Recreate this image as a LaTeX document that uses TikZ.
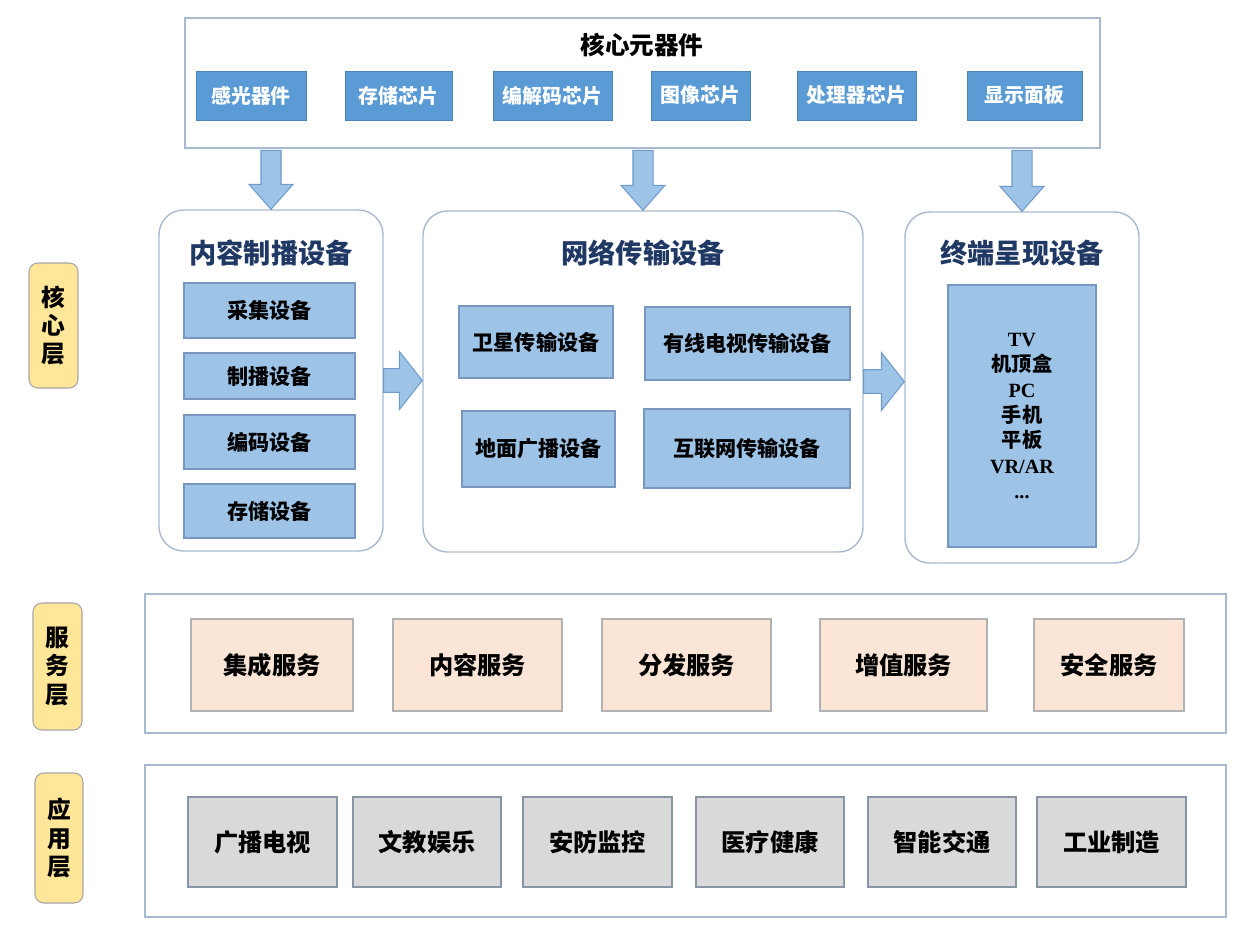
\documentclass[tikz,border=0pt]{standalone}
\usepackage{fontspec}
\setmainfont{Noto Sans CJK SC}
\newfontfamily\latinserif{Liberation Serif}
\usetikzlibrary{fit,calc}
\definecolor{chip_blue}{HTML}{5B9BD5}
\definecolor{dev_blue}{HTML}{9DC3E6}
\definecolor{dev_edge}{HTML}{7896BE}
\definecolor{title_navy}{HTML}{1F3864}
\definecolor{panel_edge}{HTML}{A9BACE}
\definecolor{serv_peach}{HTML}{FBE5D6}
\definecolor{app_grey}{HTML}{D9D9D9}
\definecolor{tag_yellow}{HTML}{FFE699}
\definecolor{arrow_edge}{HTML}{6F9BCB}

% block arrows between two named points
\newcommand\downblk[2]{%
  \draw[blkarrow] let \p1=(#1), \p2=(#2) in
    (\x2-5.7pt,\y1-1pt) -- (\x2-5.7pt,\y2+14.2pt) -- (\x2-12.5pt,\y2+14.2pt)
    -- (\x2,\y2) -- (\x2+12.5pt,\y2+14.2pt) -- (\x2+5.7pt,\y2+14.2pt)
    -- (\x2+5.7pt,\y1-1pt) -- cycle;}
\newcommand\rightblk[2]{%
  \draw[blkarrow] let \p1=(#1), \p2=(#2) in
    (\x1,\y1+6.8pt) -- (\x2-13pt,\y1+6.8pt) -- (\x2-13pt,\y1+16.4pt)
    -- (\x2,\y1) -- (\x2-13pt,\y1-16.4pt) -- (\x2-13pt,\y1-6.8pt)
    -- (\x1,\y1-6.8pt) -- cycle;}

\begin{document}
\begin{tikzpicture}[x=0.02cm,y=-0.02cm,
    every node/.style={font=\bfseries, inner sep=0pt},
    panel/.style={draw=panel_edge, line width=0.8pt, fill=white, rounded corners=14pt},
    band/.style={draw=panel_edge, line width=0.8pt, fill=white},
    chip/.style={fill=chip_blue, draw=chip_blue!85!black, line width=0.5pt,
      label={[text=white, font=\bfseries\fontsize{11.3}{13}\selectfont]center:#1}},
    device/.style={fill=dev_blue, draw=dev_edge, line width=0.6pt,
      label={[font=\bfseries\fontsize{12}{14}\selectfont]center:#1}},
    service/.style={fill=serv_peach, draw=gray!60, line width=0.6pt,
      label={[font=\bfseries\fontsize{13.8}{16}\selectfont]center:#1}},
    appbox/.style={fill=app_grey, draw=panel_edge!80!black, line width=0.6pt,
      label={[font=\bfseries\fontsize{13.8}{16}\selectfont]center:#1}},
    layertag/.style={fill=tag_yellow, draw=gray!70, line width=0.6pt, rounded corners=5pt,
      label={[align=center, font=\bfseries\fontsize{13.5}{16}\selectfont]center:#1}},
    grouptitle/.style={text=title_navy, font=\bfseries\fontsize{15.5}{18}\selectfont},
    blkarrow/.style={fill=dev_blue, draw=arrow_edge, line width=0.6pt},
  ]
  \fill[white] (0,0) rectangle (1239,926);
  \useasboundingbox (0,0) rectangle (1239,926);

  % layer tags
  \node[layertag={核\\心\\层}, fit={(29,263)(78,388)}] (tagcore) {};
  \node[layertag={服\\务\\层}, fit={(33,603)(82,730)}] (tagserv) {};
  \node[layertag={应\\用\\层}, fit={(35,773)(83,903)}] (tagapp) {};

  % core components
  \node[band, fit={(185,18)(1100,148)}] (core) {};
  \node[font=\bfseries\fontsize{14}{16}\selectfont] (coretitle) at (642,45) {核心元器件};
  \foreach \i/\xa/\xb/\txt in {1/196/306/感光器件, 2/345/452/存储芯片, 3/493/612/编解码芯片,
      4/651/750/图像芯片, 5/797/916/处理器芯片, 6/967/1082/显示面板}
    \node[chip=\txt, fit={(\xa,71)(\xb,120)}] (chip\i) {};

  % core layer groups
  \node[panel, fit={(159,210)(383,551)}] (prod) {};
  \node[panel, fit={(423,211)(863,552)}] (trans) {};
  \node[panel, fit={(905,212)(1139,563)}] (term) {};
  \node[grouptitle] (prodtitle) at (271,253) {内容制播设备};
  \node[grouptitle] (transtitle) at (643,253) {网络传输设备};
  \node[grouptitle] (termtitle) at (1022,253) {终端呈现设备};

  \node[device=采集设备, fit={(184,283)(355,338)}] (collect) {};
  \node[device=制播设备, fit={(184,353)(355,399)}] (broadcast) {};
  \node[device=编码设备, fit={(184,415)(355,469)}] (encode) {};
  \node[device=存储设备, fit={(184,484)(355,538)}] (store) {};

  \node[device=卫星传输设备, fit={(459,306)(613,378)}] (satellite) {};
  \node[device=有线电视传输设备, fit={(645,307)(850,380)}] (cable) {};
  \node[device=地面广播设备, fit={(462,411)(615,487)}] (terrestrial) {};
  \node[device=互联网传输设备, fit={(644,409)(850,488)}] (internet) {};

  \node[device={}, fit={(948,285)(1096,547)}] (terminals) {};
  \node[align=center, font=\bfseries\fontsize{11.5}{14.5}\selectfont] (termlist) at (terminals.center)
    {{\latinserif TV}\\机顶盒\\{\latinserif PC}\\手机\\平板\\{\latinserif VR/AR}\\{\latinserif ...}};

  % arrows
  \downblk{core.south}{prod.north}
  \downblk{core.south}{trans.north}
  \downblk{core.south}{term.north}
  \rightblk{prod.east}{trans.west}
  \rightblk{trans.east}{term.west}

  % service layer
  \node[band, fit={(145,594)(1226,733)}] (servband) {};
  \foreach \i/\xa/\xb/\txt in {1/191/353/集成服务, 2/393/562/内容服务, 3/602/771/分发服务,
      4/820/987/增值服务, 5/1034/1184/安全服务}
    \node[service=\txt, fit={(\xa,619)(\xb,711)}] (serv\i) {};

  % application layer
  \node[band, fit={(145,765)(1226,917)}] (appband) {};
  \foreach \i/\xa/\xb/\txt in {1/188/337/广播电视, 2/353/501/文教娱乐, 3/523/672/安防监控,
      4/696/844/医疗健康, 5/868/1016/智能交通, 6/1037/1186/工业制造}
    \node[appbox=\txt, fit={(\xa,797)(\xb,887)}] (app\i) {};
\end{tikzpicture}
\end{document}
